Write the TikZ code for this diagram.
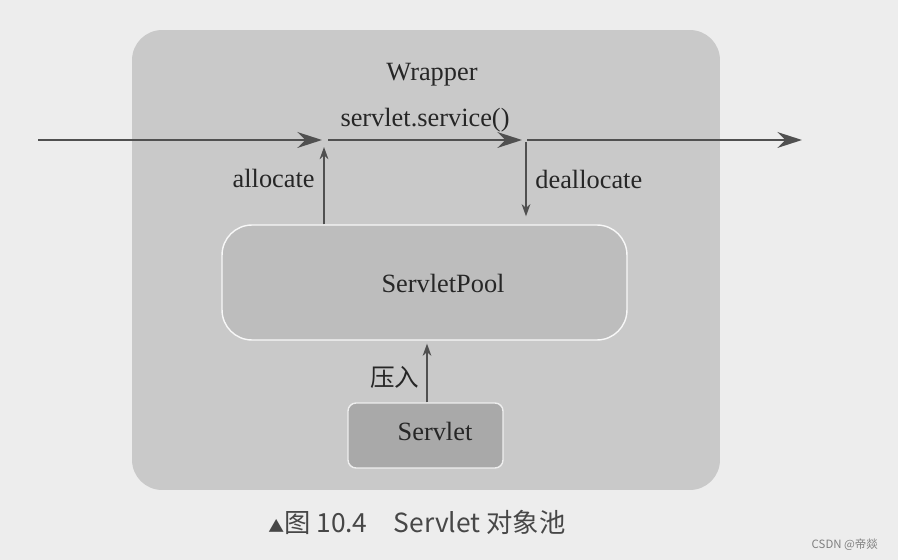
\documentclass[tikz,border=0pt]{standalone}
\usepackage{fontspec}
\setmainfont{Liberation Serif}
\newfontfamily\cjk{Noto Sans CJK SC}
\usetikzlibrary{positioning,calc,arrows.meta}
\definecolor{paper}{HTML}{EDEDED}
\definecolor{wrapgray}{HTML}{C9C9C9}
\definecolor{poolgray}{HTML}{BDBDBD}
\definecolor{servgray}{HTML}{A9A9A9}
\definecolor{linegray}{HTML}{505050}
\definecolor{inkgray}{HTML}{262626}
\tikzset{wrapbox/.style={fill=wrapgray,rounded corners=0.6cm,minimum width=11.76cm,minimum height=9.2cm,inner sep=0pt}}
\tikzset{poolbox/.style={fill=poolgray,draw=white!90!poolgray,line width=0.8pt,rounded corners=0.6cm,minimum width=8.1cm,minimum height=2.3cm}}
\tikzset{servbox/.style={fill=servgray,draw=white!80!servgray,line width=0.8pt,rounded corners=0.16cm,minimum width=3.1cm,minimum height=1.3cm}}
\tikzset{lbl/.style={text=inkgray,font=\fontsize{15}{18}\selectfont,inner sep=1pt}}
\tikzset{flow/.style={draw=linegray,line width=1.3pt,-{Stealth[length=14pt,width=9pt]}}}
\tikzset{call/.style={draw=linegray,line width=0.7pt,-{Stealth[length=7pt,width=5pt]}}}

\begin{document}
\begin{tikzpicture}[x=0.02cm,y=-0.02cm]
	\useasboundingbox[fill=paper] (0,0) rectangle (898,560);
		\node[wrapbox] (wrapper) at (426,260) {};
		\node[lbl] (wname) at (432,75) {Wrapper};
		\node[poolbox] (pool) at (424.5,282.5) {};
		\node[lbl] (pname) at (443,283) {ServletPool};
		\node[servbox] (servlet) at (425.5,435.5) {};
		\node[lbl] (sname) at (435,431) {Servlet};

		\coordinate (start) at (38,140);
		\coordinate (alloc) at (324,140);
		\coordinate (dealloc) at (526,140);
		\coordinate (end) at (802,140);

		\draw[flow] (start) -- ([xshift=-0.04cm]alloc);
		\draw[flow] ([xshift=0.08cm]alloc) -- node[lbl,above=3pt] (svc) {servlet.service()} ([xshift=-0.08cm]dealloc);
		\draw[flow] ([xshift=0.02cm]dealloc) -- (end);

		\draw[call] (pool.north -| alloc) -- node[lbl,left=4pt,yshift=0.15cm] (al) {allocate} ([yshift=-0.14cm]alloc);
		\draw[call] ([yshift=-0.05cm]dealloc) -- node[lbl,right=4pt] (de) {deallocate} ([yshift=0.16cm]pool.north -| dealloc);
		\draw[call] (servlet.north -| 427,0) -- node[lbl,left=3pt,yshift=-0.08cm] (push) {\cjk\fontsize{14}{16}\selectfont 压入} ([yshift=-0.06cm]pool.south -| 427,0);

		\node[text=inkgray!85,font=\cjk\fontsize{15}{18}\selectfont] (cap) at (417,522) {{\fontsize{9}{10}\selectfont▲}图 10.4\hspace{1em}Servlet 对象池};
		\node[text=gray,font=\cjk\fontsize{6.5}{8}\selectfont,anchor=east] (mark) at (884,545) {CSDN @帝燚};
	\end{tikzpicture}
\end{document}
